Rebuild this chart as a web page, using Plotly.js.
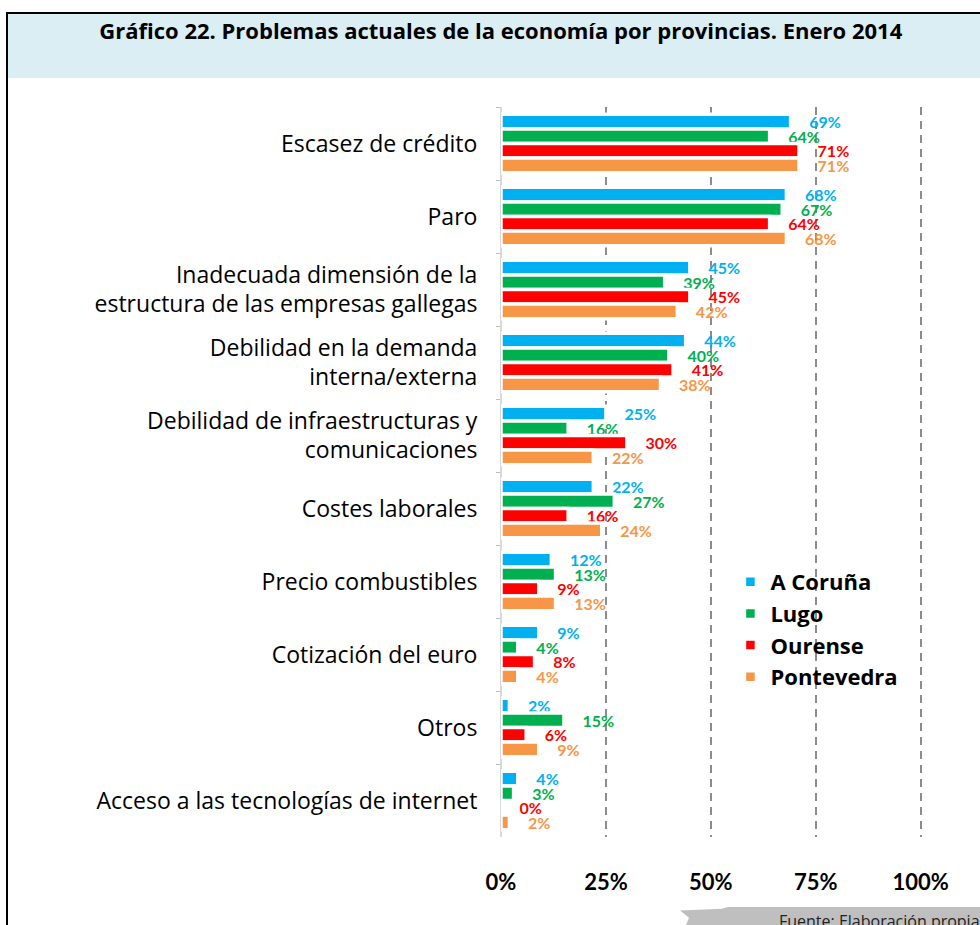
<!DOCTYPE html>
<html>
<head>
<meta charset="utf-8">
<script src="https://cdn.plot.ly/plotly-3.0.1.min.js"></script>
<style>
  html, body { margin:0; padding:0; width:980px; height:925px; overflow:hidden; background:#fff; }
  #frame { position:absolute; left:6px; top:12px; width:974px; height:913px; border-left:2px solid #000; border-top:2px solid #000; box-sizing:border-box; }
  #titlebox { position:absolute; left:8px; top:14px; width:972px; height:64px; background:#DBEEF4; }
  #srcbox { position:absolute; left:680px; top:907px; width:300px; height:18px; background:#BFBFBF;
            clip-path: polygon(0 20%, 14% 10%, 16% 0, 100% 0, 100% 100%, 2% 100%, 3% 60%); }
  #chart { position:absolute; left:0; top:0; width:980px; height:925px; }
</style>
</head>
<body>
<div id="frame"></div>
<div id="titlebox"></div>
<div id="srcbox"></div>
<div id="chart"></div>
<script>
// ---- data ----
const categories = [
  'Escasez de crédito',
  'Paro',
  'Inadecuada dimensión de la<br>estructura de las empresas gallegas',
  'Debilidad en la demanda<br>interna/externa',
  'Debilidad de infraestructuras y<br>comunicaciones',
  'Costes laborales',
  'Precio combustibles',
  'Cotización del euro',
  'Otros',
  'Acceso a las tecnologías de internet'
];
const seriesNames = ['A Coruña', 'Lugo', 'Ourense', 'Pontevedra'];
const coruna     = [69, 68, 45, 44, 25, 22, 12, 9, 2, 4];
const lugo       = [64, 67, 39, 40, 16, 27, 13, 4, 15, 3];
const ourense    = [71, 64, 45, 41, 30, 16, 9, 8, 6, 0];
const pontevedra = [71, 68, 42, 38, 22, 24, 13, 4, 9, 2];
const xTickVals  = [0, 25, 50, 75, 100];
const xTickText  = ['0%', '25%', '50%', '75%', '100%'];
const titleText  = 'Gráfico 22. Problemas actuales de la economía por provincias. Enero 2014';
const sourceText = 'Fuente: Elaboración propia';

const colors = ['#00B0F0', '#00B050', '#FF0000', '#F79646'];
const values = [coruna, lugo, ourense, pontevedra];
const FONT = '"Open Sans", Lato, sans-serif';
const LFONT = 'Lato, "Open Sans", sans-serif';
const pad = '\u00A0\u00A0\u00A0\u00A0';

const traces = values.map((vals, i) => ({
  type: 'bar',
  orientation: 'h',
  name: seriesNames[i],
  y: categories,
  x: vals,
  marker: { color: colors[i], line: { color: '#FFFFFF', width: 3.5 } },
  text: vals.map(v => pad + v + '%'),
  texttemplate: '%{text}',
  textposition: 'outside',
  constraintext: 'none',
  cliponaxis: false,
  textfont: { family: LFONT, size: 16, color: colors[i], weight: 'bold' },
  outsidetextfont: { family: LFONT, size: 16, color: colors[i], weight: 'bold' },
  hoverinfo: 'skip'
}));

const layout = {
  width: 980,
  height: 925,
  margin: { l: 501, r: 58, t: 107, b: 88, pad: 0 },
  paper_bgcolor: 'rgba(0,0,0,0)',
  plot_bgcolor: 'rgba(0,0,0,0)',
  title: {
    text: '<b>' + titleText + '</b>',
    font: { family: FONT, size: 22, color: '#000' },
    xref: 'container', yref: 'container',
    x: 0.511, xanchor: 'center',
    y: 1 - 31 / 925, yanchor: 'middle'
  },
  barmode: 'group',
  bargap: 0.2,
  bargroupgap: 0,
  showlegend: true,
  legend: {
    x: 0.545, xanchor: 'left',
    y: 0.378, yanchor: 'top',
    bgcolor: 'rgba(0,0,0,0)',
    font: { family: FONT, size: 22, color: '#000', weight: 'bold' },
    traceorder: 'normal',
    itemwidth: 30
  },
  xaxis: {
    range: [0, 100.3],
    tickvals: xTickVals,
    ticktext: xTickText,
    showgrid: true,
    gridcolor: '#8C8C8C',
    gridwidth: 2,
    griddash: '8px,6px',
    zeroline: true,
    zerolinecolor: '#D9D9D9',
    zerolinewidth: 1,
    showline: false,
    ticks: '',
    tickfont: { family: LFONT, size: 22, color: '#000', weight: 'bold' },
    ticklabelstandoff: 30,
    fixedrange: true
  },
  yaxis: {
    type: 'category',
    autorange: 'reversed',
    showline: true,
    linecolor: '#D9D9D9',
    linewidth: 1,
    showgrid: false,
    ticks: 'outside',
    tickson: 'boundaries',
    ticklen: 4,
    tickcolor: '#BFBFBF',
    tickfont: { family: FONT, size: 23, color: '#000' },
    ticklabelstandoff: 18,
    fixedrange: true
  },
  annotations: [{
    text: sourceText,
    xref: 'paper', yref: 'paper',
    x: (777 - 501) / 421, xanchor: 'left',
    y: (837.5 - 908) / 730, yanchor: 'top',
    showarrow: false,
    font: { family: FONT, size: 16, color: '#222' }
  }]
};

Plotly.newPlot('chart', traces, layout, { displayModeBar: false, staticPlot: true });
</script>
</body>
</html>
